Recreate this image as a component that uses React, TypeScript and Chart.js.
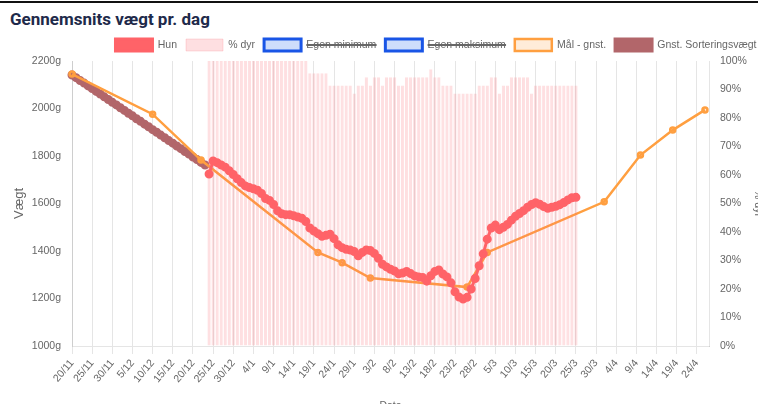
import React, { useEffect, useRef } from "react";
import { Chart, registerables } from "chart.js";

Chart.register(...registerables);

// Categories: daily dates 20/11 .. 27/4 ([month, firstDay, lastDay])
const monthSpans: [number, number, number][] = [
  [11, 20, 30],
  [12, 1, 31],
  [1, 1, 31],
  [2, 1, 28],
  [3, 1, 31],
  [4, 1, 27],
];
const dateLabels: string[] = [];
for (const [m, a, b] of monthSpans) for (let d = a; d <= b; d++) dateLabels.push(`${d}/${m}`);

// Gnst. Sorteringsvægt (daily, from 20/11)
const sortStart = "20/11";
const sortValues = [
  2141, 2130, 2118, 2107, 2095, 2084, 2072, 2061, 2049, 2038,
  2026, 2015, 2003, 1992, 1980, 1969, 1957, 1946, 1934, 1923,
  1911, 1900, 1888, 1877, 1865, 1854, 1842, 1831, 1819, 1808,
  1796, 1785, 1773, 1762,
];

// Hun (daily, from 24/12)
const hunStart = "24/12";
const hunValues = [
  1724, 1779, 1772, 1762, 1753, 1738, 1722, 1704, 1688, 1674,
  1667, 1662, 1656, 1642, 1621, 1613, 1596, 1569, 1557, 1553,
  1553, 1548, 1543, 1538, 1524, 1497, 1484, 1473, 1462, 1466,
  1471, 1452, 1426, 1414, 1407, 1404, 1398, 1380, 1394, 1404,
  1402, 1390, 1369, 1344, 1333, 1323, 1316, 1304, 1307, 1314,
  1305, 1295, 1291, 1288, 1273, 1296, 1314, 1320, 1303, 1291,
  1266, 1228, 1206, 1198, 1205, 1240, 1284, 1338, 1388, 1450,
  1497, 1509, 1490, 1500, 1512, 1530, 1546, 1558, 1570, 1584,
  1596, 1603, 1597, 1587, 1580, 1584, 1588, 1595, 1604, 1615,
  1624, 1626,
];

// % dyr (daily, from 24/12)
const dyrStart = "24/12";
const dyrValues = [
  100, 100, 100, 100, 100, 100, 100, 100, 100, 100,
  100, 100, 100, 100, 100, 100, 100, 100, 100, 100,
  100, 100, 100, 100, 100, 95.7, 95.7, 95.7, 95.7, 95.7,
  91.4, 91.4, 91.4, 91.4, 91.4, 91.4, 88.6, 91.4, 91.4, 94.3,
  91.4, 94.3, 94.3, 91.4, 94.3, 94.3, 94.3, 91.4, 91.4, 94.3,
  94.3, 94.3, 94.3, 94.3, 94.3, 97.1, 94.3, 94.3, 91.4, 91.4,
  91.4, 88.6, 88.6, 88.6, 88.6, 88.6, 88.6, 91.4, 91.4, 91.4,
  94.3, 94.3, 88.6, 91.4, 91.4, 94.3, 94.3, 94.3, 94.3, 94.3,
  88.6, 91.4, 91.4, 91.4, 91.4, 91.4, 91.4, 91.4, 91.4, 91.4,
  91.4, 91.4,
];

// Mål - gnst. (sparse points)
const malDates = ["20/11", "10/12", "22/12", "20/1", "26/1", "2/2", "26/2", "3/3", "1/4", "10/4", "18/4", "26/4"];
const malValues = [2145, 1976, 1783, 1394, 1351, 1286, 1248, 1394, 1607, 1804, 1909, 1994];

// Hidden series (no visible data)
const egenMinValues: (number | null)[] = [];
const egenMaxValues: (number | null)[] = [];

const FONT = "Arial, 'Liberation Sans', Helvetica, sans-serif";

function placeSeries(start: string, vals: number[]): (number | null)[] {
  const i0 = dateLabels.indexOf(start);
  return dateLabels.map((_, i) => (i >= i0 && i - i0 < vals.length ? vals[i - i0] : null));
}
function placeSparse(dates: string[], vals: number[]): (number | null)[] {
  return dateLabels.map((l) => {
    const k = dates.indexOf(l);
    return k >= 0 ? vals[k] : null;
  });
}

const RED = "rgb(255, 99, 104)";
const PINK = "rgba(250, 110, 120, 0.22)";
const BLUE = "rgb(25, 85, 230)";
const LBLUE = "rgba(60, 120, 240, 0.25)";
const ORANGE = "rgb(255, 159, 64)";
const LORANGE = "rgba(255, 159, 64, 0.2)";
const BROWN = "rgb(178, 102, 106)";
const GRID = "rgba(0,0,0,0.1)";

export default function App() {
  const ref = useRef<HTMLCanvasElement | null>(null);

  useEffect(() => {
    if (!ref.current) return;
    Chart.defaults.font.family = FONT;
    Chart.defaults.font.size = 10.5;
    Chart.defaults.color = "#666";

    const chart = new Chart(ref.current, {
      type: "line",
      data: {
        labels: dateLabels,
        datasets: [
          {
            label: "Hun",
            data: placeSeries(hunStart, hunValues),
            borderColor: RED,
            backgroundColor: RED,
            borderWidth: 3,
            pointRadius: 3,
            pointBackgroundColor: RED,
            pointBorderColor: RED,
            yAxisID: "y",
          },
          {
            type: "bar",
            label: "% dyr",
            data: placeSeries(dyrStart, dyrValues),
            backgroundColor: PINK,
            borderColor: PINK,
            borderWidth: 1,
            barPercentage: 0.95,
            categoryPercentage: 0.85,
            yAxisID: "y1",
          } as any,
          {
            label: "Egen minimum",
            data: egenMinValues,
            hidden: true,
            borderColor: BLUE,
            backgroundColor: LBLUE,
            borderWidth: 3,
            yAxisID: "y",
          },
          {
            label: "Egen maksimum",
            data: egenMaxValues,
            hidden: true,
            borderColor: BLUE,
            backgroundColor: LBLUE,
            borderWidth: 3,
            yAxisID: "y",
          },
          {
            label: "Mål - gnst.",
            data: placeSparse(malDates, malValues),
            borderColor: ORANGE,
            backgroundColor: LORANGE,
            borderWidth: 2.5,
            pointRadius: 2.5,
            spanGaps: true,
            yAxisID: "y",
          },
          {
            label: "Gnst. Sorteringsvægt",
            data: placeSeries(sortStart, sortValues),
            borderColor: BROWN,
            backgroundColor: BROWN,
            borderWidth: 3,
            pointRadius: 3,
            pointBackgroundColor: BROWN,
            pointBorderColor: BROWN,
            yAxisID: "y",
          },
        ],
      },
      options: {
        responsive: false,
        animation: false,
        layout: { padding: 0 },
        plugins: {
          legend: {
            position: "top",
            align: "center",
            labels: {
              boxWidth: 37,
              boxHeight: 12,
              padding: 9,
              color: "#666",
              font: { size: 10.5, family: FONT },
            },
          },
          tooltip: { enabled: false },
        },
        scales: {
          x: {
            offset: false,
            grid: {
              offset: false,
              color: (c: any) => (c.index % 5 === 0 ? GRID : "transparent"),
            },
            border: { color: GRID },
            ticks: {
              autoSkip: false,
              maxRotation: 50,
              minRotation: 50,
              callback: (_v: any, i: number) => (i % 5 === 0 ? dateLabels[i] : ""),
            },
            title: { display: true, text: "Dato", padding: { top: 4, bottom: 4 } },
            afterFit: (s: any) => {
              s.height = 70;
            },
          },
          y: {
            position: "left",
            min: 1000,
            max: 2200,
            ticks: { stepSize: 200, callback: (v: any) => v + "g" },
            grid: { drawOnChartArea: false, tickColor: "transparent" },
            border: { color: GRID },
            title: { display: true, text: "Vægt", font: { size: 13 }, padding: { top: 4, bottom: 4 } },
            afterFit: (s: any) => {
              s.width = 64;
            },
          },
          y1: {
            position: "right",
            min: 0,
            max: 100,
            ticks: { stepSize: 10, callback: (v: any) => v + "%" },
            grid: { drawOnChartArea: false, tickColor: "transparent" },
            border: { color: GRID },
            title: { display: true, text: "% dyr", padding: { top: 100, bottom: 4 } },
            afterFit: (s: any) => {
              s.width = 155;
            },
          },
        },
      },
    });
    return () => chart.destroy();
  }, []);

  return (
    <div
      style={{
        position: "fixed",
        left: 0,
        top: 0,
        width: 758,
        height: 404,
        overflow: "hidden",
        background: "#fff",
      }}
    >
      <div style={{ position: "absolute", left: 0, top: 1, width: 758, height: 2, background: "#111" }} />
      <div
        style={{
          position: "absolute",
          left: 10,
          top: 9,
          fontFamily: "Roboto, 'Noto Sans', Arial, sans-serif",
          fontWeight: 700,
          fontSize: 17,
          lineHeight: "20px",
          color: "#1e2a4a",
          whiteSpace: "nowrap",
        }}
      >
        Gennemsnits vægt pr. dag
      </div>
      <div style={{ position: "absolute", left: 8, top: 30, width: 856, height: 386 }}>
        <canvas ref={ref} width={856} height={386} style={{ width: 856, height: 386 }} />
      </div>
    </div>
  );
}
